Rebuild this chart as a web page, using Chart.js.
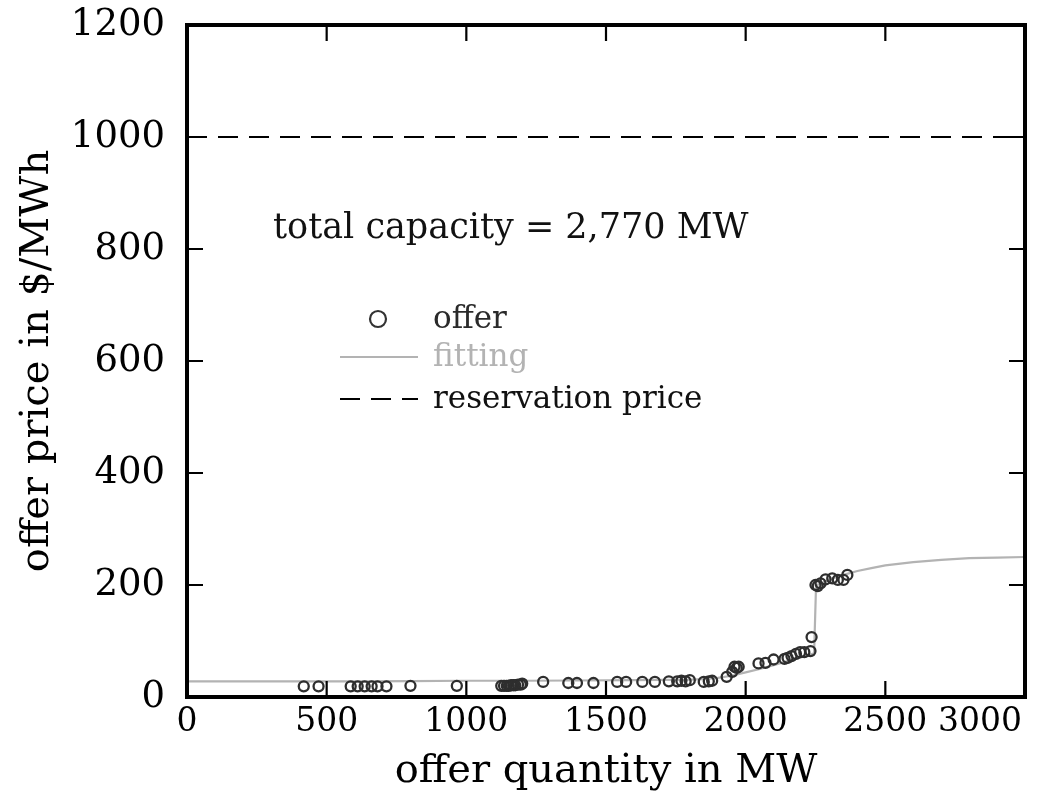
<!DOCTYPE html>
<html>
<head>
<meta charset="utf-8">
<script src="https://cdn.jsdelivr.net/npm/chart.js@4.4.1/dist/chart.umd.min.js"></script>
<style>
  html, body { margin: 0; padding: 0; background: #fff; }
  #wrap { width: 1040px; height: 796px; }
</style>
</head>
<body>
<div id="wrap"><canvas id="c" width="1040" height="796"></canvas></div>
<script>
// Offer stack: quantity (MW) and offer price ($/MWh) of each offer
const offerQty = [
  418, 471, 586, 611, 636, 661, 682, 714, 800, 966,
  1125, 1135, 1145, 1152, 1160, 1168, 1175, 1185, 1195, 1200,
  1275, 1365, 1396, 1455, 1540, 1572, 1630, 1675, 1725, 1755, 1770, 1785, 1800,
  1850, 1868, 1880, 1932, 1952, 1960, 1968, 1975,
  2046, 2071, 2100, 2139, 2150, 2164, 2180, 2195, 2210, 2232, 2236,
  2250, 2258, 2268, 2286, 2310, 2330, 2350, 2364
];
const offerPrice = [
  19, 19, 19, 19, 19, 19, 19, 19, 20, 20,
  20, 20, 20, 20, 21, 21, 21, 22, 22, 24,
  27, 25, 25, 25, 27, 27, 27, 27, 28, 28, 29, 28, 30,
  27, 28, 29, 36, 45, 54, 52, 54,
  60, 61, 67, 68, 70, 73, 77, 80, 80, 82, 107,
  200, 198, 203, 210, 212, 209, 209, 218
];

// Fitted supply curve
const fitQty = [0, 200, 400, 600, 800, 1000, 1200, 1400, 1600, 1700, 1800, 1850, 1900, 1950,
  2000, 2050, 2100, 2150, 2200, 2245, 2252, 2300, 2350, 2400, 2450, 2500, 2600, 2700, 2800, 2900, 3000];
const fitPrice = [28, 28, 28, 28, 28.5, 29, 29, 29.5, 30, 30.5, 31, 32, 34, 38,
  44, 50, 57, 64, 71, 78, 199, 210, 218, 225, 230, 235, 241, 245, 248, 249, 250];

// Reservation price ($/MWh)
const reservationPrice = 1000;
const totalCapacityText = 'total capacity = 2,770 MW';

const xTicks = [0, 500, 1000, 1500, 2000, 2500, 3000];
const yTicks = [0, 200, 400, 600, 800, 1000, 1200];

const FONT = '"DejaVu Serif", "Liberation Serif", serif';

const offerPoints = offerQty.map((q, i) => ({ x: q, y: offerPrice[i] }));
const fitPoints = fitQty.map((q, i) => ({ x: q, y: fitPrice[i] }));
const resPoints = [{ x: 0, y: reservationPrice }, { x: 3000, y: reservationPrice }];

// Box frame with inward ticks on all four sides, x tick labels, annotation and legend
const framePlugin = {
  id: 'frame',
  afterDraw(chart) {
    const { ctx, chartArea: a, scales } = chart;
    const tl = 16;
    ctx.save();
    ctx.strokeStyle = '#000';
    ctx.lineWidth = 2.2;
    ctx.beginPath();
    xTicks.forEach(v => {
      const px = scales.x.getPixelForValue(v);
      ctx.moveTo(px, a.bottom); ctx.lineTo(px, a.bottom - tl);
      ctx.moveTo(px, a.top); ctx.lineTo(px, a.top + tl);
    });
    yTicks.forEach(v => {
      const py = scales.y.getPixelForValue(v);
      ctx.moveTo(a.left, py); ctx.lineTo(a.left + tl, py);
      ctx.moveTo(a.right, py); ctx.lineTo(a.right - tl, py);
    });
    ctx.stroke();
    ctx.lineWidth = 4;
    ctx.strokeRect(a.left, a.top, a.right - a.left, a.bottom - a.top);

    // x tick labels, kept inside the canvas at the right end
    ctx.fillStyle = '#000';
    ctx.font = '33px ' + FONT;
    ctx.textBaseline = 'middle';
    ctx.textAlign = 'center';
    const maxRight = chart.width - 18;
    xTicks.forEach(v => {
      const label = String(v);
      const w = ctx.measureText(label).width;
      let px = scales.x.getPixelForValue(v);
      if (px + w / 2 > maxRight) px = maxRight - w / 2;
      ctx.fillText(label, px, a.bottom + 25);
    });

    // annotation
    ctx.fillStyle = '#111';
    ctx.font = '35px ' + FONT;
    ctx.textAlign = 'left';
    ctx.fillText(totalCapacityText, 273, 229);

    // legend
    const lx0 = 340, lx1 = 418, tx = 433;
    ctx.font = '31px ' + FONT;
    // offer
    ctx.strokeStyle = '#333';
    ctx.lineWidth = 2.2;
    ctx.beginPath();
    ctx.arc(378, 319, 8, 0, Math.PI * 2);
    ctx.stroke();
    ctx.fillStyle = '#2a2a2a';
    ctx.fillText('offer', tx, 320);
    // fitting
    ctx.strokeStyle = '#b3b3b3';
    ctx.beginPath();
    ctx.moveTo(lx0, 357); ctx.lineTo(lx1, 357);
    ctx.stroke();
    ctx.fillStyle = '#b3b3b3';
    ctx.fillText('fitting', tx, 358);
    // reservation price
    ctx.strokeStyle = '#000';
    ctx.lineWidth = 2;
    ctx.setLineDash([20, 11]);
    ctx.beginPath();
    ctx.moveTo(lx0, 399); ctx.lineTo(lx1, 399);
    ctx.stroke();
    ctx.setLineDash([]);
    ctx.fillStyle = '#111';
    ctx.fillText('reservation price', tx, 400);
    ctx.restore();
  }
};

// fixed scale box sizes, no extra room for overhanging tick labels
function fixBox(w, h) {
  return s => {
    if (w !== null) s.width = w;
    if (h !== null) s.height = h;
    s.paddingLeft = 0; s.paddingRight = 0; s.paddingTop = 0; s.paddingBottom = 0;
  };
}

new Chart(document.getElementById('c'), {
  type: 'scatter',
  data: {
    datasets: [
      {
        label: 'offer',
        data: offerPoints,
        showLine: false,
        pointStyle: 'circle',
        pointRadius: 5,
        pointBorderWidth: 2.3,
        borderColor: '#2e2e2e',
        backgroundColor: 'rgba(0,0,0,0)',
        order: 1
      },
      {
        label: 'fitting',
        data: fitPoints,
        showLine: true,
        borderColor: '#b3b3b3',
        borderWidth: 2.2,
        pointRadius: 0,
        tension: 0,
        order: 2
      },
      {
        label: 'reservation price',
        data: resPoints,
        showLine: true,
        borderColor: '#000',
        borderWidth: 2,
        borderDash: [20, 11],
        pointRadius: 0,
        order: 3
      }
    ]
  },
  options: {
    responsive: false,
    animation: false,
    layout: { autoPadding: false, padding: { top: 25, right: 15, left: 0, bottom: 0 } },
    plugins: { legend: { display: false }, tooltip: { enabled: false } },
    scales: {
      x: {
        type: 'linear', min: 0, max: 3000,
        afterFit: fixBox(null, 99),
        afterBuildTicks(s) { s.ticks = xTicks.map(v => ({ value: v })); },
        grid: { display: false, drawTicks: false },
        border: { display: false },
        ticks: { display: false },
        title: { display: true, text: 'offer quantity in MW', color: '#000',
                 font: { family: FONT, size: 40 }, padding: { top: 0, bottom: 0 } }
      },
      y: {
        type: 'linear', min: 0, max: 1200,
        afterFit: fixBox(187, null),
        afterBuildTicks(s) { s.ticks = yTicks.map(v => ({ value: v })); },
        grid: { display: false, drawTicks: false },
        border: { display: false },
        ticks: { color: '#000', font: { family: FONT, size: 37 }, padding: 22,
                 autoSkip: false, callback: v => String(v) },
        title: { display: true, text: 'offer price in $/MWh', color: '#000',
                 font: { family: FONT, size: 40 }, padding: { top: 14, bottom: 14 } }
      }
    }
  },
  plugins: [framePlugin]
});
</script>
</body>
</html>
